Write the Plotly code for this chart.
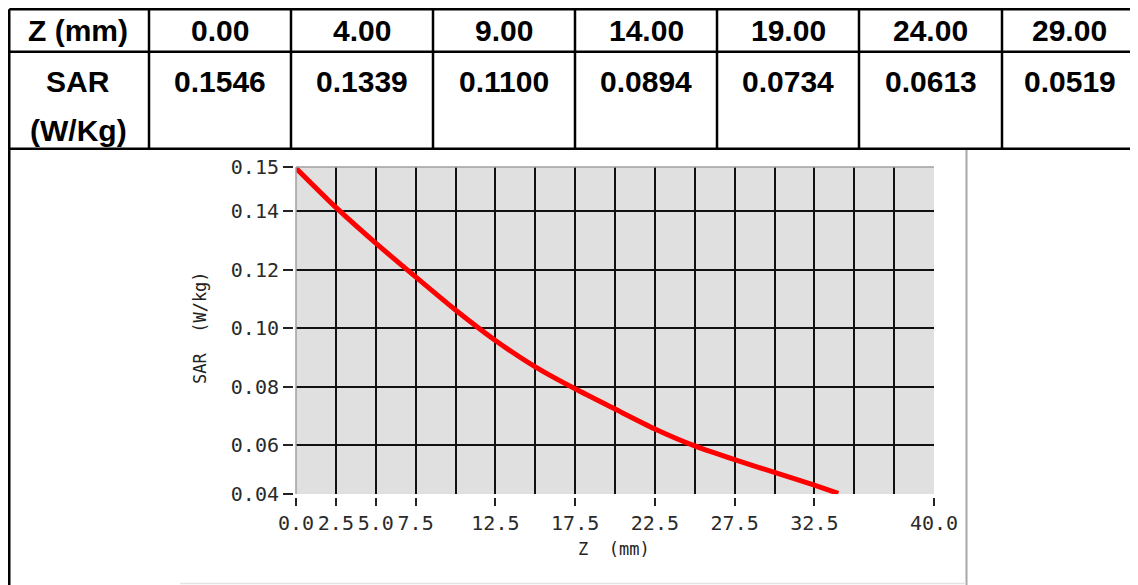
import plotly.graph_objects as go

# table values (top of the page)
z_table = ["0.00", "4.00", "9.00", "14.00", "19.00", "24.00", "29.00"]
sar_table = ["0.1546", "0.1339", "0.1100", "0.0894", "0.0734", "0.0613", "0.0519"]

# SAR curve
z_curve = [0, 2.5, 5, 7.5, 10, 12.5, 15, 17.5, 20, 22.5, 25, 27.5, 30, 32.5, 34]
sar_curve = [0.1546, 0.1412, 0.1290, 0.1175, 0.1062, 0.0958, 0.0868, 0.0793,
             0.0724, 0.0656, 0.0598, 0.0551, 0.0508, 0.0464, 0.0436]

# axis ticks
x_tickvals = [0, 2.5, 5, 7.5, 12.5, 17.5, 22.5, 27.5, 32.5, 40]
x_ticktext = ["0.0", "2.5", "5.0", "7.5", "12.5", "17.5", "22.5", "27.5", "32.5", "40.0"]
x_grid = [2.5, 5, 7.5, 10, 12.5, 15, 17.5, 20, 22.5, 25, 27.5, 30, 32.5, 35, 37.5]
y_min, y_max = 0.0434, 0.1550
y_tickvals = [y_min, 0.06, 0.08, 0.10, 0.12, 0.14, y_max]
y_ticktext = ["0.04", "0.06", "0.08", "0.10", "0.12", "0.14", "0.15"]
y_grid = [0.06, 0.08, 0.10, 0.12, 0.14]

# page body has an 8px margin, so the figure is drawn 8px smaller and
# page coordinates are shifted by that much
OFF = 8
W, H = 1138 - OFF, 585 - OFF


def px(x):
    return (x - OFF) / W


def py(y):
    return 1 - (y - OFF) / H


fig = go.Figure()
fig.add_trace(go.Scatter(
    x=z_curve, y=sar_curve, mode='lines',
    line=dict(color='#ff0000', width=5, shape='spline', smoothing=0.6),
    showlegend=False, hoverinfo='skip',
))

mono = dict(family='DejaVu Sans Mono', size=20, color='#2a2a2a')

fig.update_layout(
    width=W, height=H, autosize=False,
    margin=dict(l=0, r=0, t=0, b=0, pad=0, autoexpand=False),
    paper_bgcolor='white',
    plot_bgcolor='#e0e0e0',
    xaxis=dict(
        domain=[px(296), px(934)], range=[0, 40],
        anchor='free', position=py(497), automargin=False,
        tickmode='array', tickvals=x_tickvals, ticktext=x_ticktext,
        ticks='outside', ticklen=8, tickwidth=1.5, tickcolor='#222222',
        tickfont=mono, showgrid=False, zeroline=False, showline=False,
        minor=dict(tickmode='array', tickvals=x_grid, showgrid=True,
                   gridcolor='#111111', gridwidth=2, ticks=''),
    ),
    yaxis=dict(
        domain=[py(494), py(167)], range=[y_min, y_max],
        anchor='free', position=px(293), automargin=False,
        tickmode='array', tickvals=y_tickvals, ticktext=y_ticktext,
        ticks='outside', ticklen=10, tickwidth=1.5, tickcolor='#222222',
        tickfont=mono, showgrid=False, zeroline=False, showline=False,
        minor=dict(tickmode='array', tickvals=y_grid, showgrid=True,
                   gridcolor='#111111', gridwidth=2, ticks=''),
    ),
)

shapes = []
line_k = dict(color='black', width=2.5)
# table borders (outer left/top edges kept just inside the figure)
top_y = OFF + 1.25
left_x = OFF + 1.25
col_edges = [7, 149, 291, 433, 575, 717, 859, 1002, 1137]
for yy in [top_y, 51.7, 148.7]:
    shapes.append(dict(type='line', xref='paper', yref='paper',
                       x0=px(left_x), x1=px(1137), y0=py(yy), y1=py(yy), line=line_k))
for xx in col_edges[1:]:
    shapes.append(dict(type='line', xref='paper', yref='paper',
                       x0=px(xx), x1=px(xx), y0=py(top_y), y1=py(148.7), line=line_k))
shapes.append(dict(type='line', xref='paper', yref='paper',
                   x0=px(left_x), x1=px(left_x), y0=py(top_y), y1=0, line=line_k))
# picture frame edges
shapes.append(dict(type='line', xref='paper', yref='paper',
                   x0=px(966.5), x1=px(966.5), y0=py(150), y1=0,
                   line=dict(color='#a8a8a8', width=2)))
shapes.append(dict(type='line', xref='paper', yref='paper',
                   x0=px(180), x1=px(966), y0=py(583.5), y1=py(583.5),
                   line=dict(color='#e4e4e4', width=1.5)))
# plot area left / top border
shapes.append(dict(type='line', xref='x domain', yref='y domain',
                   x0=0, x1=0, y0=0, y1=1, line=dict(color='#a0a0a0', width=1.5)))
shapes.append(dict(type='line', xref='x domain', yref='y domain',
                   x0=0, x1=1, y0=1, y1=1, line=dict(color='#a0a0a0', width=1.5)))
fig.update_layout(shapes=shapes)

bold = dict(family='Liberation Sans', size=30, color='black')
annotations = []
centers = [(col_edges[i] + col_edges[i + 1]) / 2 for i in range(len(col_edges) - 1)]
annotations.append(dict(text='<b>Z (mm)</b>', x=px(centers[0]), y=py(31)))
annotations.append(dict(text='<b>SAR</b>', x=px(centers[0]), y=py(81)))
annotations.append(dict(text='<b>(W/Kg)</b>', x=px(centers[0]), y=py(131)))
for c, zt, st in zip(centers[1:], z_table, sar_table):
    annotations.append(dict(text='<b>%s</b>' % zt, x=px(c), y=py(31)))
    annotations.append(dict(text='<b>%s</b>' % st, x=px(c), y=py(81)))
for a in annotations:
    a.update(xref='paper', yref='paper', showarrow=False, font=bold,
             xanchor='center', yanchor='middle')

# axis titles
annotations.append(dict(text='Z  (mm)', x=px(614), y=py(549), xref='paper', yref='paper',
                        showarrow=False, font=dict(family='DejaVu Sans Mono', size=17, color='#222222'),
                        xanchor='center', yanchor='middle'))
annotations.append(dict(text='SAR  (W/kg)', x=px(200), y=py(328), xref='paper', yref='paper',
                        showarrow=False, textangle=-90,
                        font=dict(family='DejaVu Sans Mono', size=17, color='#222222'),
                        xanchor='center', yanchor='middle'))
fig.update_layout(annotations=annotations)

fig.write_html("out.html")
